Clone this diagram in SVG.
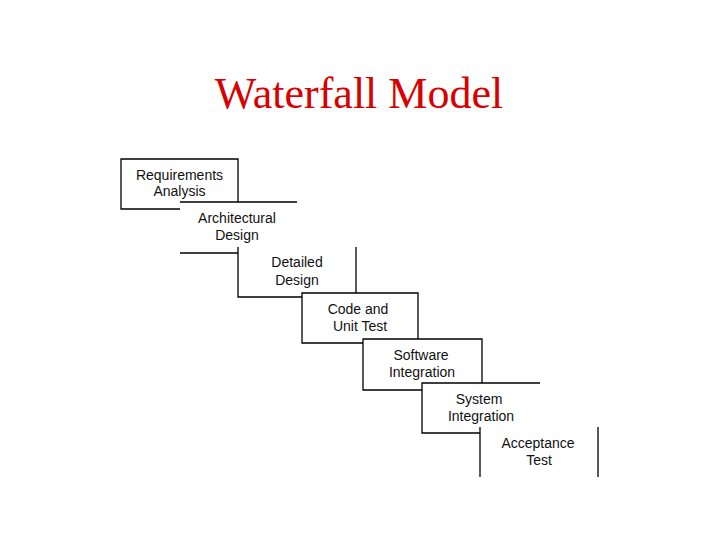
<svg xmlns="http://www.w3.org/2000/svg" width="720" height="540" viewBox="0 0 720 540">
  <style>
    .title { font-family: "Liberation Serif", "Times New Roman", serif; font-size: 44px; fill: #d80000; text-anchor: middle; }
    .bg { fill: #ffffff; stroke: none; }
    .edge { fill: none; stroke: #000000; stroke-width: 1.3; }
    .lbl { font-family: "Liberation Sans", Arial, sans-serif; font-size: 14px; fill: #111111; text-anchor: middle; }
  </style>
  <rect width="720" height="540" fill="#ffffff"/>
  <text class="title" x="359" y="108">Waterfall Model</text>

  <g id="connectors"/>

  <g id="requirements-analysis">
    <rect class="bg" x="121" y="159" width="117" height="50"/>
    <path class="edge" d="M121,159 H238 V209 H121 Z"/>
    <text class="lbl" x="179.5" y="180">Requirements</text>
    <text class="lbl" x="179.5" y="196">Analysis</text>
  </g>

  <g id="architectural-design">
    <rect class="bg" x="180" y="202" width="117" height="51"/>
    <path class="edge" d="M180,202 H297 M180,253 H238"/>
    <text class="lbl" x="237" y="223">Architectural</text>
    <text class="lbl" x="237" y="240">Design</text>
  </g>

  <g id="detailed-design">
    <rect class="bg" x="238" y="247" width="118" height="50"/>
    <path class="edge" d="M238,247 V297 H302 M356,247 V293"/>
    <text class="lbl" x="297" y="267">Detailed</text>
    <text class="lbl" x="297" y="285">Design</text>
  </g>

  <g id="code-unit-test">
    <rect class="bg" x="302" y="293" width="116" height="50"/>
    <path class="edge" d="M302,293 H418 V343 H302 Z"/>
    <text class="lbl" x="358" y="314">Code and</text>
    <text class="lbl" x="360" y="331">Unit Test</text>
  </g>

  <g id="software-integration">
    <rect class="bg" x="363" y="339" width="119" height="51"/>
    <path class="edge" d="M363,339 H482 V390 H363 Z"/>
    <text class="lbl" x="421" y="360">Software</text>
    <text class="lbl" x="422" y="377">Integration</text>
  </g>

  <g id="system-integration">
    <rect class="bg" x="422" y="383" width="118" height="50"/>
    <path class="edge" d="M540,383 H422 V433 H480"/>
    <text class="lbl" x="479" y="404">System</text>
    <text class="lbl" x="481" y="421">Integration</text>
  </g>

  <g id="acceptance-test">
    <rect class="bg" x="480" y="427" width="118" height="50"/>
    <path class="edge" d="M480,427 V477 M598,427 V477"/>
    <text class="lbl" x="538" y="448">Acceptance</text>
    <text class="lbl" x="539" y="465">Test</text>
  </g>
</svg>
